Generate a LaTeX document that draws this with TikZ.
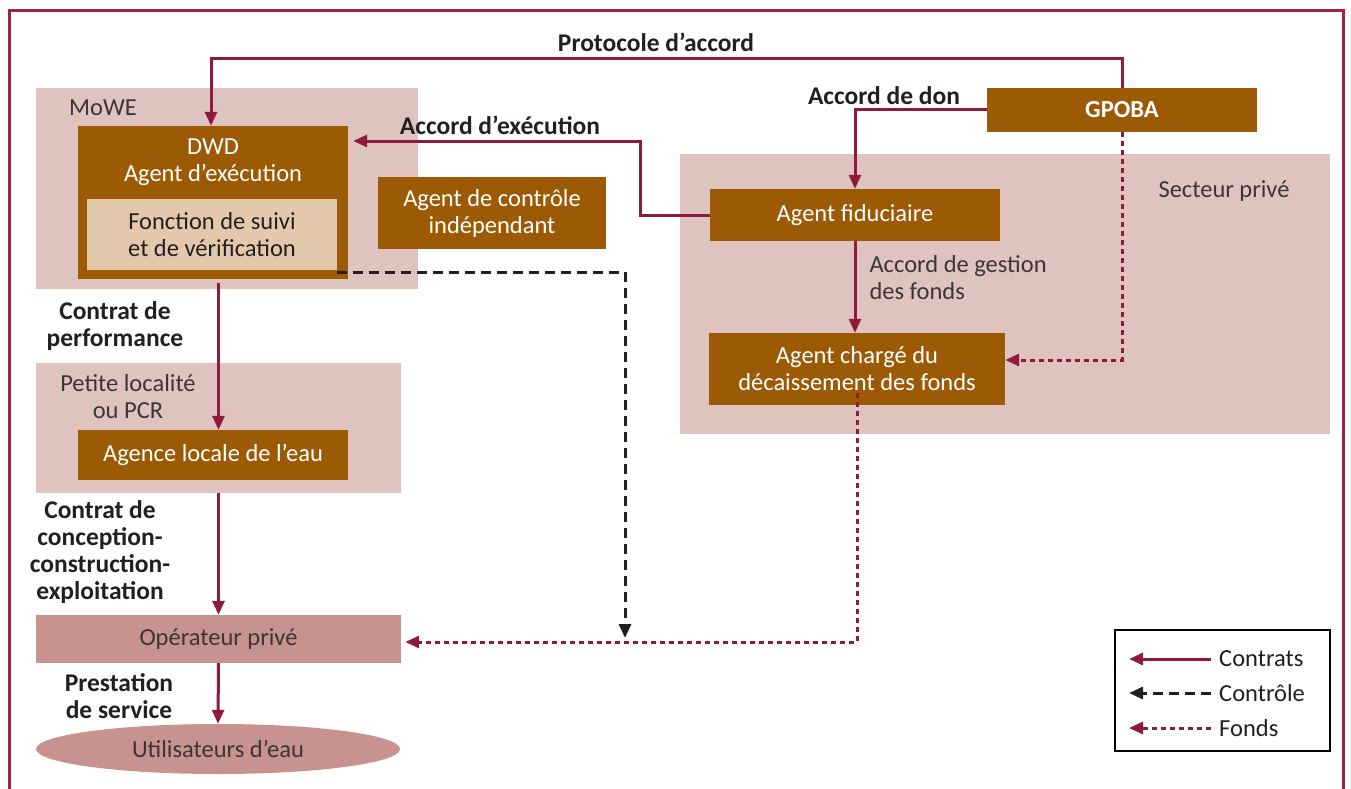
\documentclass[tikz,border=0pt]{standalone}
\usepackage{fontspec}
\setmainfont{Carlito}
\usepackage{xcolor}
\usepackage{tikz}
\usetikzlibrary{arrows.meta, positioning, shapes.geometric}

\definecolor{brunagent}{HTML}{9C5A05}
\definecolor{rosezone}{HTML}{DFC3BF}
\definecolor{beigesuivi}{HTML}{E4C8AC}
\definecolor{roseop}{HTML}{C8928E}
\definecolor{bordeaux}{HTML}{8E1B3B}
\definecolor{cadrecol}{HTML}{9E2347}
\definecolor{texte}{HTML}{231F20}
\definecolor{gristexte}{HTML}{3B3536}

\begin{document}
\begin{tikzpicture}[
		% Styles
		x=1pt, y=-1pt,
		>={Triangle[length=14pt, width=12pt]},
		every node/.style={font=\fontsize{24.5}{27}\selectfont},
		zone/.style={fill=rosezone, inner sep=0pt},
		zonetxt/.style={text=gristexte, align=center},
		agent/.style={fill=brunagent, text=white, align=center, inner sep=0pt},
		lbl/.style={font=\fontsize{25.5}{27}\selectfont\bfseries, text=texte, align=center},
		contrat/.style={->, line width=3pt, draw=bordeaux},
		controle/.style={->, line width=3pt, draw=texte, dash pattern=on 10pt off 6pt},
		fonds/.style={->, line width=3pt, draw=bordeaux, dash pattern=on 5pt off 4pt},
		cadre/.style={line width=3pt, draw=cadrecol}
	]
	\useasboundingbox (0,0) rectangle (1351,789);
	\draw[cadre] (9,800) |- (1343,11) -- (1343,800);
	% Zones
	\node[zone, minimum width=382pt, minimum height=201pt] (mowe) at (227,188.5) {};
	\node[zonetxt] (mowetxt) at (103,108) {MoWE};
	\node[zone, minimum width=650pt, minimum height=280pt] (prive) at (1005,294) {};
	\node[zonetxt] (privetxt) at (1224,191) {Secteur privé};
	\node[zone, minimum width=365pt, minimum height=130pt] (localite) at (218.5,428) {};
	\node[zonetxt] (localitetxt) at (128,397) {Petite localité\\ou PCR};
	% Agents
	\node[agent, minimum width=270pt, minimum height=153pt] (dwd) at (213,202.5) {};
	\node[text=white, align=center] (dwdtxt) at (213,162.5) {DWD\\Agent d’exécution};
	\node[fill=beigesuivi, text=texte, align=center, inner sep=0pt, minimum width=250pt, minimum height=71pt] (suivi) at (212,234.5) {Fonction de suivi\\et de vérification};
	\node[agent, minimum width=228pt, minimum height=72pt] (controleur) at (492,213) {Agent de contrôle\\indépendant};
	\node[agent, minimum width=270pt, minimum height=44pt, font=\fontsize{24.5}{27}\selectfont\bfseries] (gpoba) at (1122,110) {GPOBA};
	\node[agent, minimum width=290pt, minimum height=52pt] (fiduc) at (855,215) {Agent fiduciaire};
	\node[agent, minimum width=296pt, minimum height=72pt] (charge) at (857,369) {Agent chargé du\\décaissement des fonds};
	\node[agent, minimum width=270pt, minimum height=50pt] (agence) at (213,455) {Agence locale de l’eau};
	\node[fill=roseop, text=gristexte, inner sep=0pt, minimum width=365pt, minimum height=48pt] (operateur) at (218.5,639) {Opérateur privé};
	\node[ellipse, fill=roseop, text=gristexte, inner sep=0pt, minimum width=364pt, minimum height=50pt] (usagers) at (218,749) {Utilisateurs d’eau};
	% Points de passage
	\coordinate (protocoude) at (211,59);
	\coordinate (execoude) at (640,141);
	\coordinate (ctrlfin) at (625,638);
	% Contrats
	\draw[contrat] (gpoba.north) |- (protocoude) -- (protocoude |- dwd.north);
	\node[lbl] (protolbl) at (656,42) {Protocole d’accord};
	\draw[contrat] (gpoba.west) -| (fiduc.north);
	\node[lbl] (donlbl) at (884,96) {Accord de don};
	\draw[contrat, shorten >=5pt] (fiduc.west) -| (execoude) -- (dwd.east |- execoude);
	\node[lbl] (execlbl) at (500,125) {Accord d’exécution};
	\draw[contrat] (fiduc.south) -- (fiduc.south |- charge.north);
	\node[zonetxt, anchor=west, align=left] (gestionlbl) at (866,278) {Accord de gestion\\des fonds};
	\draw[contrat] ([yshift=-4pt]dwd.south -| operateur.north) -- (agence.north -| operateur.north);
	\node[lbl] (perflbl) at (115,326) {Contrat de\\performance};
	\draw[contrat] (localite.south) -- (operateur.north);
	\node[lbl] (ccelbl) at (100,552) {Contrat de\\conception-\\construction-\\exploitation};
	\draw[contrat] (operateur.south) -- (usagers.north);
	\node[lbl] (servicelbl) at (119,696) {Prestation\\de service};
	% Controle et fonds
	\draw[controle] ([yshift=-2pt]suivi.south east) -| (ctrlfin);
	\draw[fonds] (gpoba.south) |- ([yshift=9pt]charge.east);
	\draw[fonds, shorten >=4pt] ([yshift=12pt]charge.south) |- ([yshift=-3pt]operateur.east);
	% Legende
	\node[draw=black, line width=2.5pt, fill=white, minimum width=215pt, minimum height=121pt] (legende) at (1222.5,690.5) {};
	\foreach \sty/\txt/\yy [count=\i] in {contrat/Contrats/659, controle/Contrôle/693, fonds/Fonds/728} {
		\node[text=texte, anchor=west, inner sep=0pt] (leg\i) at (1219,\yy) {\txt};
		\draw[\sty] ([xshift=-8pt]leg\i.west) -- ++(-82,0);
	}
\end{tikzpicture}
\end{document}
